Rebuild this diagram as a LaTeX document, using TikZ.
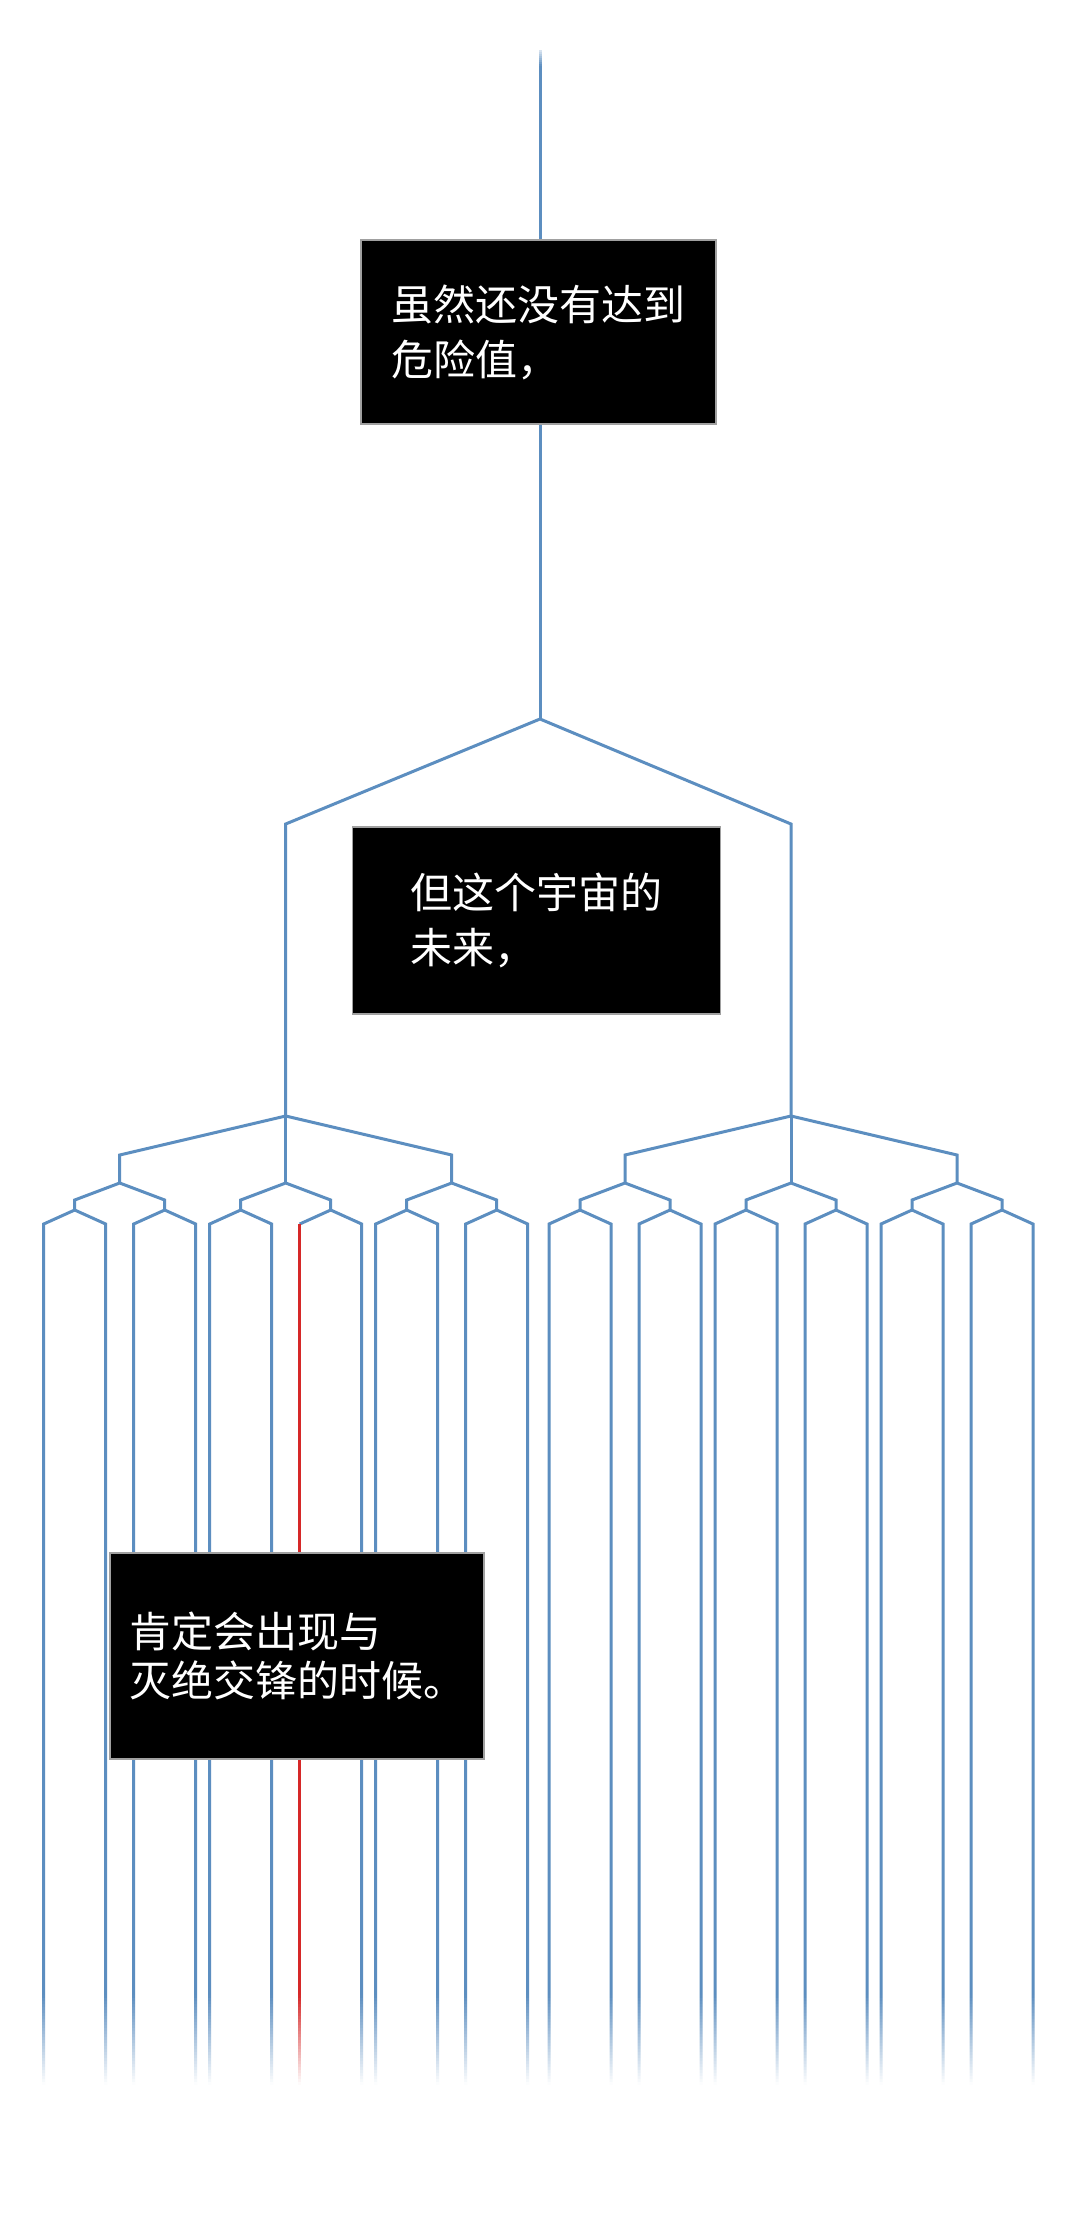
\documentclass[tikz,border=0pt]{standalone}
\usepackage{fontspec}
\newfontfamily\cjk{Noto Sans CJK SC}
\definecolor{branch}{RGB}{92,142,192}
\definecolor{redline}{RGB}{214,40,40}
\definecolor{boxedge}{RGB}{160,160,160}
\begin{document}
\begin{tikzpicture}[x=0.5pt,y=-0.5pt,
  br/.style={draw=branch, line width=1.5pt, line join=miter},
  redbr/.style={draw=redline, line width=1.5pt},
  textbox/.style={fill=black, draw=boxedge, line width=0.6pt, text=white,
    font=\cjk\fontsize{21pt}{27.5pt}\selectfont, align=left, inner sep=0pt}
]
\useasboundingbox (0,0) rectangle (1080,2227);
\fill[white] (0,0) rectangle (1080,2227);

% trunk
\coordinate (top) at (540,50);
\coordinate (apex) at (540,719);
\coordinate (l1a) at (285.7,824);
\coordinate (l1b) at (791,824);
\coordinate (hubA) at (285.7,1116);
\coordinate (hubB) at (791,1116);
\draw[br] (top) -- (apex);
\draw[br] (hubA) -- (l1a) -- (apex) -- (l1b) -- (hubB);

% lower tree
\foreach \hx in {285.7,791} {
  \draw[br] (\hx-166,1183) -- (\hx-166,1155) -- (\hx,1116) -- (\hx+166,1155) -- (\hx+166,1183);
  \draw[br] (\hx,1116) -- (\hx,1183);
  \foreach \co in {-166,0,166} {
    \pgfmathsetmacro\c{\hx+\co}
    \draw[br] (\c-45,1210) -- (\c-45,1200) -- (\c,1183) -- (\c+45,1200) -- (\c+45,1210);
    \foreach \dof in {-45,45} {
      \pgfmathsetmacro\d{\c+\dof}
      \foreach \lo in {-31,31} {
        \pgfmathsetmacro\lx{\d+\lo}
        \pgfmathtruncatemacro\isred{abs(\lx-299.7)<2 ? 1 : 0}
        \ifnum\isred=1
          \draw[br] (\d,1210) -- (\lx,1224);
          \draw[redbr] (\lx,1224) -- (\lx,2095);
        \else
          \draw[br] (\d,1210) -- (\lx,1224) -- (\lx,2095);
        \fi
      }
    }
  }
}

% fade-out of the leaves (white strips of rising opacity)
\foreach \i in {0,...,29} {
  \pgfmathsetmacro\op{(\i+0.5)/30}
  \fill[white, fill opacity=\op] (0,{1995+3*\i}) rectangle (1080,{1998+3*\i});
}
\fill[white] (0,2085) rectangle (1080,2110);
% fade-in of the trunk top
\foreach \i in {0,...,9} {
  \pgfmathsetmacro\op{1-(\i+0.5)/10}
  \fill[white, fill opacity=\op] (520,{46+2*\i}) rectangle (560,{48+2*\i});
}

% text boxes
\node[textbox, minimum width=177.5pt, minimum height=92pt] (box1) at (538.5,332)
  {虽然还没有达到\\危险值，};
\node[textbox, minimum width=184pt, minimum height=93.5pt] (box2) at (536.7,920.5)
  {但这个宇宙的\\未来，};
\node[textbox, font=\cjk\fontsize{21pt}{24.5pt}\selectfont,
  minimum width=187pt, minimum height=103pt] (box3) at (297,1656)
  {肯定会出现与\\灭绝交锋的时候。};
\end{tikzpicture}
\end{document}
